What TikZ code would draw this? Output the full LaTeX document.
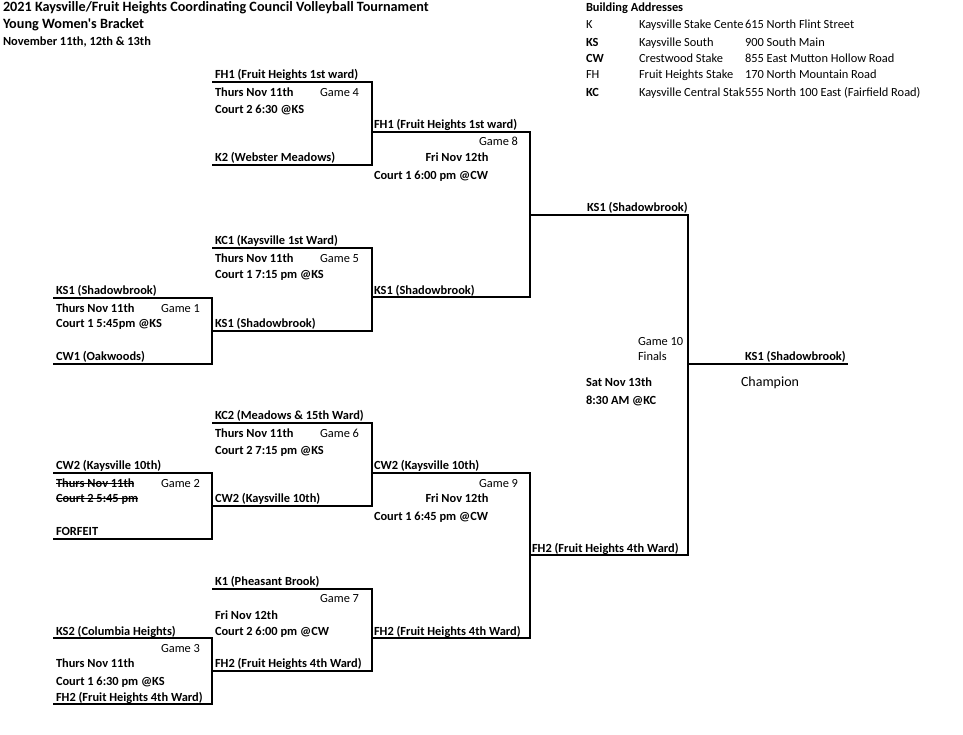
\documentclass[tikz,border=0pt]{standalone}
\usepackage{fontspec}
\setmainfont{Carlito}[Ligatures=TeXOff]
\tikzset{
  every node/.style={inner sep=0pt, outer sep=0pt},
  team/.style={anchor=base west, font=\bfseries\fontsize{12.4}{14}\selectfont},
  plain/.style={anchor=base west, font=\fontsize{12.4}{14}\selectfont},
  gameno/.style={anchor=base east, font=\fontsize{12.4}{14}\selectfont},
  headline/.style={anchor=base west, font=\bfseries\fontsize{14.2}{16}\selectfont},
  bracket/.style={line width=1.8pt},
  strike/.style={line width=0.8pt},
}

\begin{document}
\begin{tikzpicture}[x=1pt,y=-1pt]
\useasboundingbox (0,0) rectangle (963,735);

% corners of the brackets
\coordinate (g1t) at (53,298);  \coordinate (g1b) at (53,364);
\coordinate (g2t) at (53,473);  \coordinate (g2b) at (53,539);
\coordinate (g3t) at (53,638);  \coordinate (g3b) at (53,704);
\coordinate (g4t) at (212,82);  \coordinate (g4b) at (212,165);
\coordinate (g5t) at (212,248); \coordinate (g5b) at (212,331);
\coordinate (g6t) at (212,423); \coordinate (g6b) at (212,506);
\coordinate (g7t) at (212,589); \coordinate (g7b) at (212,671);
\coordinate (g8t) at (372,132); \coordinate (g8b) at (372,297);
\coordinate (g9t) at (372,473); \coordinate (g9b) at (372,638);
\coordinate (g10t) at (530,215); \coordinate (g10b) at (530,555);
\coordinate (champ) at (688,364); \coordinate (champend) at (848,364);

\foreach \g/\r in {g1/g5t, g2/g6t, g3/g7t, g4/g8t, g5/g8t,
                   g6/g9t, g7/g9t, g8/g10t, g9/g10t, g10/champ}
  \draw[bracket] (\g t) -- (\g t -| \r) |- (\g b);
\draw[bracket] (champ) -- (champend);

% heading
\node[headline] (title) at (3,12) {2021 Kaysville/Fruit Heights Coordinating Council Volleyball Tournament};
\node[headline] (bracketname) at (3,29) {Young Women's Bracket};
\node[team] (dates) at (3,46) {November 11th, 12th \& 13th};

% building addresses
\node[team] (addr) at (586,12) {Building Addresses};
\node[plain] (kcode) at (586,29) {K};
\node[plain] (kname) at (639,29) {Kaysville Stake Cente};
\node[plain] (kaddr) at (745,29) {615 North Flint Street};
\node[team] (kscode) at (586,47) {KS};
\node[plain] (ksname) at (639,47) {Kaysville South};
\node[plain] (ksaddr) at (745,47) {900 South Main};
\node[team] (cwcode) at (586,63) {CW};
\node[plain] (cwname) at (639,63) {Crestwood Stake};
\node[plain] (cwaddr) at (745,63) {855 East Mutton Hollow Road};
\node[plain] (fhcode) at (586,79) {FH};
\node[plain] (fhname) at (639,79) {Fruit Heights Stake};
\node[plain] (fhaddr) at (745,79) {170 North Mountain Road};
\node[team] (kccode) at (586,97) {KC};
\node[plain] (kcname) at (639,97) {Kaysville Central Stak};
\node[plain] (kcaddr) at (745,97) {555 North 100 East (Fairfield Road)};

% game 1
\node[team] (g1home) at (56,294) {KS1 (Shadowbrook)};
\node[team] (g1day) at (56,312) {Thurs Nov 11th};
\node[gameno] (g1no) at (200,312) {Game 1};
\node[team] (g1court) at (56,327) {Court 1 5:45pm @KS};
\node[team] (g1away) at (56,360) {CW1 (Oakwoods)};

% game 2
\node[team] (g2home) at (56,469) {CW2 (Kaysville 10th)};
\node[team] (g2day) at (56,487) {Thurs Nov 11th};
\node[gameno] (g2no) at (200,487) {Game 2};
\node[team] (g2court) at (56,502) {Court 2 5:45 pm};
\node[team] (g2away) at (56,535) {FORFEIT};
\draw[strike] ([yshift=3.5pt]g2day.base west) -- ([yshift=3.5pt]g2day.base east);
\draw[strike] ([yshift=3.5pt]g2court.base west) -- ([yshift=3.5pt]g2court.base east);

% game 3
\node[team] (g3home) at (56,635) {KS2 (Columbia Heights)};
\node[gameno] (g3no) at (200,652) {Game 3};
\node[team] (g3day) at (56,667) {Thurs Nov 11th};
\node[team] (g3court) at (56,685) {Court 1 6:30 pm @KS};
\node[team] (g3away) at (56,701) {FH2 (Fruit Heights 4th Ward)};

% game 4
\node[team] (g4home) at (215,79) {FH1 (Fruit Heights 1st ward)};
\node[team] (g4day) at (215,97) {Thurs Nov 11th};
\node[gameno] (g4no) at (359,97) {Game 4};
\node[team] (g4court) at (215,114) {Court 2 6:30 @KS};
\node[team] (g4away) at (215,162) {K2 (Webster Meadows)};

% game 5
\node[team] (g5home) at (215,244) {KC1 (Kaysville 1st Ward)};
\node[team] (g5day) at (215,262) {Thurs Nov 11th};
\node[gameno] (g5no) at (359,262) {Game 5};
\node[team] (g5court) at (215,279) {Court 1 7:15 pm @KS};
\node[team] (g5away) at (215,327) {KS1 (Shadowbrook)};

% game 6
\node[team] (g6home) at (215,419) {KC2 (Meadows \& 15th Ward)};
\node[team] (g6day) at (215,437) {Thurs Nov 11th};
\node[gameno] (g6no) at (359,437) {Game 6};
\node[team] (g6court) at (215,454) {Court 2 7:15 pm @KS};
\node[team] (g6away) at (215,502) {CW2 (Kaysville 10th)};

% game 7
\node[team] (g7home) at (215,585) {K1 (Pheasant Brook)};
\node[gameno] (g7no) at (359,602) {Game 7};
\node[team] (g7day) at (215,619) {Fri Nov 12th};
\node[team] (g7court) at (215,635) {Court 2 6:00 pm @CW};
\node[team] (g7away) at (215,667) {FH2 (Fruit Heights 4th Ward)};

% game 8
\node[team] (g8home) at (374,129) {FH1 (Fruit Heights 1st ward)};
\node[gameno] (g8no) at (518,146) {Game 8};
\node[team, anchor=base] (g8day) at (457,162) {Fri Nov 12th};
\node[team] (g8court) at (374,180) {Court 1 6:00 pm @CW};
\node[team] (g8away) at (374,294) {KS1 (Shadowbrook)};

% game 9
\node[team] (g9home) at (374,469) {CW2 (Kaysville 10th)};
\node[gameno] (g9no) at (518,487) {Game 9};
\node[team, anchor=base] (g9day) at (457,502) {Fri Nov 12th};
\node[team] (g9court) at (374,520) {Court 1 6:45 pm @CW};
\node[team] (g9away) at (374,635) {FH2 (Fruit Heights 4th Ward)};

% game 10
\node[team] (g10home) at (587,212) {KS1 (Shadowbrook)};
\node[plain] (g10no) at (638,345) {Game 10};
\node[plain] (g10finals) at (638,360) {Finals};
\node[team] (g10day) at (586,386) {Sat Nov 13th};
\node[team] (g10court) at (586,404) {8:30 AM @KC};
\node[team] (g10away) at (532,552) {FH2 (Fruit Heights 4th Ward)};

% champion
\node[team] (winner) at (745,360) {KS1 (Shadowbrook)};
\node[plain, font=\fontsize{14}{16}\selectfont] (champlbl) at (741,386) {Champion};
\end{tikzpicture}
\end{document}
